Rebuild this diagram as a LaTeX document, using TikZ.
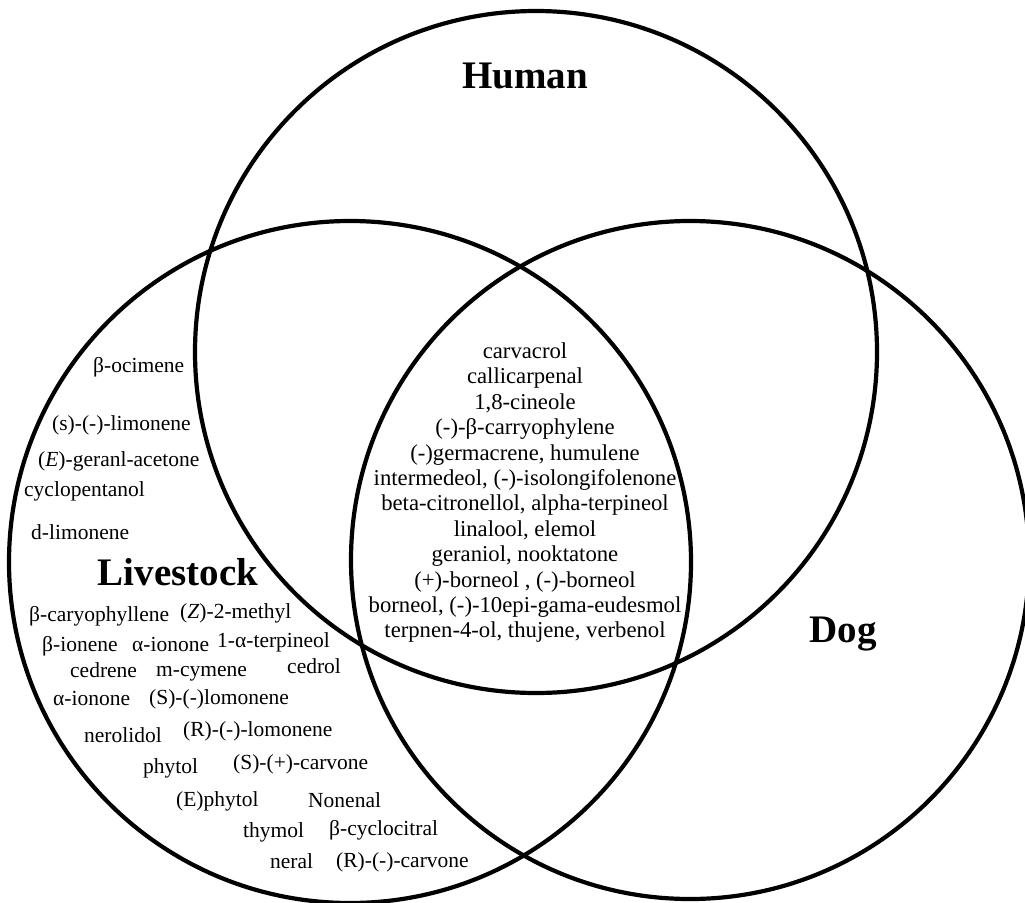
\documentclass[tikz,border=0pt]{standalone}
\usepackage{fontspec}
\setmainfont{Liberation Serif}

\begin{document}
\begin{tikzpicture}[x=1pt,y=-1pt,
  ring/.style={draw=black, line width=4.2pt},
  title/.style={font=\fontsize{39}{39}\selectfont\bfseries, inner sep=0pt, anchor=base},
  chem/.style={font=\fontsize{21.5}{23}\selectfont, inner sep=0pt, anchor=base west},
  core/.style={font=\fontsize{22.7}{25.4}\selectfont, inner sep=0pt, align=center, anchor=north}]
\useasboundingbox (0,0) rectangle (1025,902);
% the three sets
\coordinate (human) at (536,352);
\coordinate (livestock) at (350,562);
\coordinate (dog) at (690,560);
\draw [ring] (human) circle [radius=341pt];
\draw [ring] (livestock) circle [radius=341pt];
\draw [ring] (dog) circle [radius=339pt];
% set names
\node [title] (humanname) at (525,88) {Human};
\node [title] (livestockname) at (178,585) {Livestock};
\node [title] (dogname) at (843,642) {Dog};
% shared by all three
\node [core] (shared) at (525,342.5) {carvacrol\\ callicarpenal\\ 1,8-cineole\\
  (-)-β-carryophylene\\ (-)germacrene, humulene\\ intermedeol, (-)-isolongifolenone\\
  beta-citronellol, alpha-terpineol\\ linalool, elemol\\ geraniol, nooktatone\\
  (+)-borneol , (-)-borneol\\ borneol, (-)-10epi-gama-eudesmol\\
  terpnen-4-ol, thujene, verbenol};
% livestock only
\node [chem] (ocimene) at (93,372) {β-ocimene};
\node [chem] (slimonene) at (52,430) {(s)-(-)-limonene};
\node [chem] (geranyl) at (38,466) {(\textit{E})-geranl-acetone};
\node [chem] (cyclo) at (24,496) {cyclopentanol};
\node [chem] (dlimonene) at (31,539) {d-limonene};
\node [chem] (bcaryo) at (29,621) {β-caryophyllene};
\node [chem] (zmethyl) at (180,618) {(\textit{Z})-2-methyl};
\node [chem] (bionene) at (42,651) {β-ionene};
\node [chem] (aionone) at (132,651) {α-ionone};
\node [chem] (terpineol) at (217,647) {1-α-terpineol};
\node [chem] (cedrene) at (70,677) {cedrene};
\node [chem] (cymene) at (156,676) {m-cymene};
\node [chem] (cedrol) at (287,673) {cedrol};
\node [chem] (aiononeb) at (53,705) {α-ionone};
\node [chem] (slomonene) at (149,704) {(S)-(-)lomonene};
\node [chem] (nerolidol) at (84,742) {nerolidol};
\node [chem] (rlomonene) at (183,736) {(R)-(-)-lomonene};
\node [chem] (phytol) at (143,773) {phytol};
\node [chem] (scarvone) at (233,769) {(S)-(+)-carvone};
\node [chem] (ephytol) at (176,806) {(E)phytol};
\node [chem] (nonenal) at (308,807) {Nonenal};
\node [chem] (thymol) at (243,837) {thymol};
\node [chem] (cyclocitral) at (329,835) {β-cyclocitral};
\node [chem] (neral) at (270,868) {neral};
\node [chem] (rcarvone) at (336,867) {(R)-(-)-carvone};
\end{tikzpicture}
\end{document}
